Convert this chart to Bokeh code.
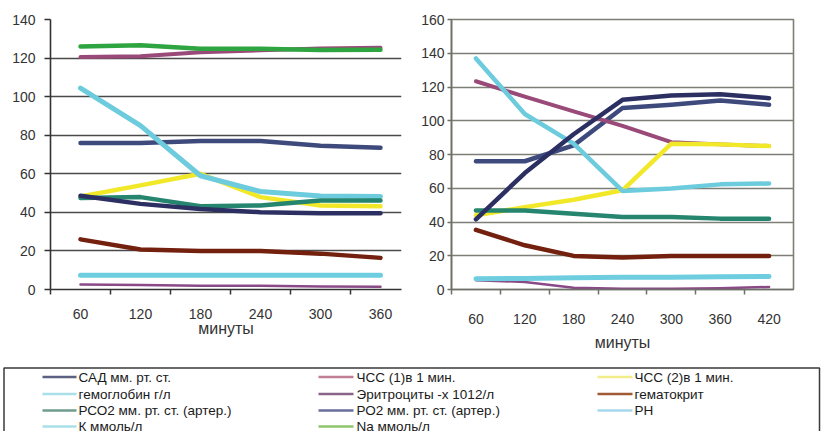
from bokeh.plotting import figure
from bokeh.models import FixedTicker, Title
from bokeh.layouts import column, row
from bokeh.embed import file_html
from bokeh.resources import INLINE
from bokeh.core.properties import value

# ---------------- data ----------------
minutes_left = [60, 120, 180, 240, 300, 360]
left_sad = [76, 76, 77, 77, 74.5, 73.5]
left_hss1 = [120.5, 121, 123, 124, 125, 125.4]
left_hss2 = [48.2, 54, 60, 47.9, 43.6, 43.2]
left_hb = [104.4, 85, 59, 50.8, 48.5, 48.2]
left_er = [2.6, 2.3, 2.0, 1.9, 1.6, 1.4]
left_ht = [26, 20.7, 20, 20, 18.6, 16.4]
left_pco2 = [47.4, 47.9, 43.2, 43.6, 46.2, 46.2]
left_po2 = [48.6, 44.4, 41.8, 40.1, 39.6, 39.6]
left_ph = [7.4, 7.4, 7.4, 7.4, 7.4, 7.4]
left_na = [126, 126.6, 124.8, 124.8, 124.2, 124.3]

minutes_right = [60, 120, 180, 240, 300, 360, 420]
right_sad = [76, 76, 85.4, 107.6, 109.5, 112, 109.5]
right_hss1 = [123.4, 114.3, 105.6, 97, 87.3, 86, 85]
right_hss2 = [44, 48.8, 53.2, 58.8, 86.4, 86, 85]
right_hb = [136.9, 104, 86.4, 58.4, 59.8, 62.3, 62.8]
right_er = [5.5, 4.5, 1.0, 0.5, 0.5, 0.8, 1.5]
right_ht = [35.3, 26.2, 19.9, 18.9, 19.9, 19.9, 19.9]
right_pco2 = [46.8, 46.8, 44.9, 43, 43, 42, 42]
right_po2 = [41.6, 69, 92, 112.4, 114.9, 115.7, 113.4]
right_ph = [6.4, 6.5, 7.0, 7.2, 7.3, 7.5, 7.7]

left_yticks = [0, 20, 40, 60, 80, 100, 120, 140]
right_yticks = [0, 20, 40, 60, 80, 100, 120, 140, 160]
x_title = "минуты"

legend_labels = ["САД мм. рт. ст.", "ЧСС (1)в 1 мин.", "ЧСС (2)в 1 мин.",
                 "гемоглобин г/л", "Эритроциты -х 1012/л", "гематокрит",
                 "РСО2 мм. рт. ст. (артер.)", "РО2 мм. рт. ст. (артер.)", "РН",
                 "К ммоль/л", "Na ммоль/л"]

# ---------------- styles ----------------
COL = {
    "sad": "#3e4a7c", "hss1": "#9a4a78", "hss2": "#f2e82a", "hb": "#6ccbdc",
    "er": "#8a4a88", "ht": "#74200f", "pco2": "#25856f", "po2": "#2c2f62",
    "ph": "#6fcde0", "na": "#2ea540",
}
LEG_COL = ["#5c5f80", "#c07f92", "#f2ee8a", "#a9dfe9", "#8a6488", "#a05a36",
           "#6f9c8c", "#6a6c9c", "#a6d8ee", "#a9dfe9", "#8cc56a"]
FONT = "Liberation Sans"


def style(p, grid_col, axis_col, yticks, xticks, xminor, tick_out_y, y_standoff, x_standoff):
    p.outline_line_color = None
    p.xgrid.grid_line_color = None
    p.ygrid.grid_line_color = grid_col
    p.ygrid.grid_line_width = 1.6
    p.yaxis.ticker = FixedTicker(ticks=yticks)
    p.xaxis.ticker = FixedTicker(ticks=xticks, minor_ticks=xminor)
    for ax in (p.xaxis[0], p.yaxis[0]):
        ax.axis_line_color = axis_col
        ax.axis_line_width = 1.6
        ax.major_tick_line_color = axis_col
        ax.major_tick_line_width = 1.5
        ax.major_tick_in = 0
        ax.major_label_text_font = FONT
        ax.major_label_text_font_size = "14px"
        ax.major_label_text_color = "#333333"
    p.yaxis.major_tick_out = tick_out_y
    p.yaxis.minor_tick_line_color = None
    p.yaxis.major_label_standoff = y_standoff
    p.xaxis.major_tick_out = 0
    p.xaxis.minor_tick_in = 0
    p.xaxis.minor_tick_out = 5
    p.xaxis.minor_tick_line_color = axis_col
    p.xaxis.minor_tick_line_width = 1.5
    p.xaxis.major_label_standoff = x_standoff


def draw(p, xs, series):
    for key, ys, w in series:
        p.line(xs, ys, line_color=COL[key], line_width=w, line_cap="round", line_join="round")


# ---------------- left chart ----------------
left = figure(width=418, height=358, x_range=(30, 381), y_range=(0, 140),
              output_backend="svg", toolbar_location=None,
              min_border_left=50, min_border_right=17, min_border_top=18, min_border_bottom=69)
style(left, "#4a4a4a", "#333333", left_yticks, minutes_left,
      [30, 90, 150, 210, 270, 330], 6, 9, 14)
draw(left, minutes_left, [
    ("sad", left_sad, 4.5), ("hss1", left_hss1, 4), ("hss2", left_hss2, 4.5),
    ("hb", left_hb, 5), ("er", left_er, 2.5), ("ht", left_ht, 4.5),
    ("pco2", left_pco2, 4.5), ("po2", left_po2, 4.5), ("ph", left_ph, 5),
    ("na", left_na, 4.5),
])
left.add_layout(Title(text=x_title, align="center", offset=16, standoff=-8,
                      text_font=FONT, text_font_size="16px", text_font_style="normal",
                      text_color="#333333"), "below")

# ---------------- right chart ----------------
right = figure(width=404, height=358, x_range=(30, 450), y_range=(0, 160),
               output_backend="svg", toolbar_location=None,
               min_border_left=33, min_border_right=29, min_border_top=19, min_border_bottom=62)
style(right, "#7d7f76", "#6e6f68", right_yticks, minutes_right,
      [30, 90, 150, 210, 270, 330, 390], 4, 3, 19)
right.outline_line_color = "#7d7f76"
right.outline_line_width = 1.6
draw(right, minutes_right, [
    ("sad", right_sad, 4.5), ("hss1", right_hss1, 4), ("hss2", right_hss2, 4.5),
    ("hb", right_hb, 4.5), ("er", right_er, 2.5), ("ht", right_ht, 4.5),
    ("pco2", right_pco2, 4.5), ("po2", right_po2, 4.5), ("ph", right_ph, 5),
])
right.add_layout(Title(text=x_title, align="center", offset=9, standoff=11,
                       text_font=FONT, text_font_size="16px", text_font_style="normal",
                       text_color="#333333"), "below")

# ---------------- legend ----------------
leg = figure(width=822, height=73, x_range=(0, 822), y_range=(0, 73),
             output_backend="svg", toolbar_location=None,
             min_border=0, min_border_left=0, min_border_right=0,
             min_border_top=0, min_border_bottom=0)
leg.axis.visible = False
leg.grid.visible = False
leg.outline_line_color = None
leg.quad(left=[3.5], right=[819], top=[63.5], bottom=[-20], fill_color=None,
         line_color="#3a3a3a", line_width=1.5)
col_line = [(42, 76, 78), (318, 353, 356), (597, 632, 634)]
row_y = [54.5, 37.5, 21, 5]
for i, lab in enumerate(legend_labels):
    r, c = divmod(i, 3)
    x0, x1, xt = col_line[c]
    y = row_y[r]
    leg.segment(x0=[x0], y0=[y], x1=[x1], y1=[y], line_color=LEG_COL[i], line_width=2.5)
    leg.text(x=[xt], y=[y], text=[lab], text_font=value(FONT), text_font_size="13.5px",
             text_baseline="middle", text_align="left", text_color="#1a1a1a")

layout = column(row(left, right), leg)
open("out.html", "w").write(file_html(layout, INLINE))
